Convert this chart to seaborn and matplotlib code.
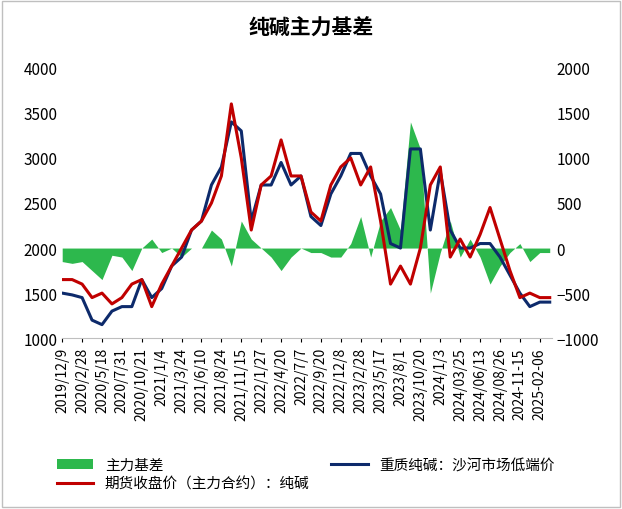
import numpy as np
import pandas as pd
import matplotlib
matplotlib.use("Agg")
import matplotlib.pyplot as plt
import seaborn as sns

plt.rcParams["font.family"] = "Noto Sans CJK SC"

tick_labels = ["2019/12/9","2020/2/28","2020/5/18","2020/7/31","2020/10/21","2021/1/4","2021/3/24",
               "2021/6/10","2021/8/24","2021/11/15","2022/1/27","2022/4/20","2022/7/7","2022/9/20",
               "2022/12/8","2023/2/28","2023/5/17","2023/8/1","2023/10/20","2024/1/3","2024/03/25",
               "2024/06/13","2024/08/26","2024-11-15","2025-02-06"]
pos = [i * 0.5 for i in range(50)]
futures = [1650,1650,1600,1450,1500,1380,1450,1600,1650,1350,1600,1800,2000,2200,2300,2500,2800,3600,3000,2200,
           2700,2800,3200,2800,2800,2400,2300,2700,2900,3000,2700,2900,2300,1600,1800,1600,2000,2700,2900,1900,
           2100,1900,2150,2450,2100,1750,1450,1500,1450,1450]
spot = [1500,1480,1450,1200,1150,1300,1350,1350,1650,1450,1550,1800,1900,2200,2300,2700,2900,3400,3300,2300,
        2700,2700,2950,2700,2800,2350,2250,2600,2800,3050,3050,2800,2600,2050,2000,3100,3100,2200,2850,2200,
        2000,2000,2050,2050,1900,1700,1500,1350,1400,1400]
basis = [-150,-170,-150,-250,-350,-80,-100,-250,0,100,-50,0,-100,0,0,200,100,-200,300,100,
         0,-100,-250,-100,0,-50,-50,-100,-100,50,350,-100,300,450,200,1400,1100,-500,-50,300,
         -100,100,-100,-400,-200,-50,50,-150,-50,-50]

df = pd.DataFrame({"x": pos, "futures": futures, "spot": spot, "basis": basis})

fig = plt.figure(figsize=(6.22, 5.10), dpi=100)
ax = fig.add_axes([0.10, 0.335, 0.787, 0.53])
ax2 = ax.twinx()
ax2.fill_between(df["x"], 0, df["basis"], color="#2db84d", linewidth=0, label="主力基差")
ax2.set_ylim(-1000, 2000)
sns.lineplot(data=df, x="x", y="spot", ax=ax, color="#0d2a6b", linewidth=2.2, label="重质纯碱：沙河市场低端价")
sns.lineplot(data=df, x="x", y="futures", ax=ax, color="#c00000", linewidth=2.2, label="期货收盘价（主力合约）：纯碱")
ax.set_zorder(ax2.get_zorder() + 1)
ax.patch.set_visible(False)
ax.set_ylim(1000, 4000)
ax.set_xlim(0, 24.6)
ax.set_xticks(range(len(tick_labels)))
ax.set_xticklabels(tick_labels)
ax.tick_params(axis="x", length=3, labelrotation=90, labelsize=10)
ax.set_xlabel("")
ax.set_ylabel("")
ax.tick_params(axis="y", labelsize=11, length=0)
ax2.tick_params(axis="y", labelsize=11, length=0)
for a in (ax, ax2):
    for s in a.spines.values():
        s.set_visible(False)
ax.spines["bottom"].set_visible(True)
ax.spines["bottom"].set_color("#bfbfbf")
ax.get_legend().remove()
fig.suptitle("纯碱主力基差", fontsize=15, fontweight="bold", y=0.965)

h1, l1 = ax2.get_legend_handles_labels()
h2, l2 = ax.get_legend_handles_labels()
fig.legend([h1[0], h2[1], h2[0]], [l1[0], l2[1], l2[0]], loc="lower left",
           bbox_to_anchor=(0.07, 0.01), ncol=2, frameon=False, fontsize=10.5,
           columnspacing=1.5, handlelength=2.5, labelspacing=0.3)
fig.patches.append(plt.Rectangle((0.003, 0.003), 0.994, 0.994, transform=fig.transFigure,
                                 fill=False, edgecolor="#bfbfbf", linewidth=1))
fig.savefig("out.png", dpi=100)
